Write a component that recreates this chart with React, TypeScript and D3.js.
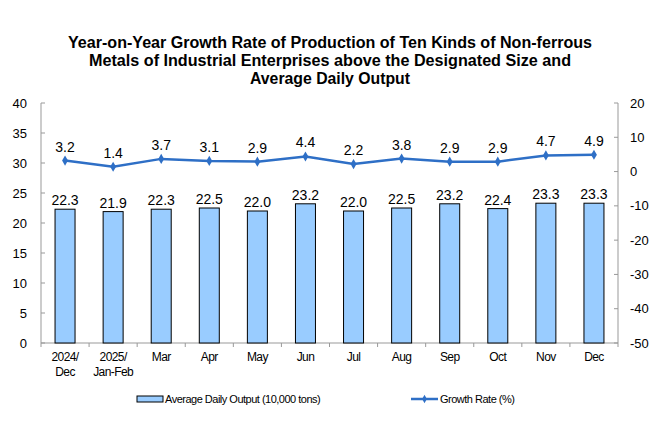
import * as d3 from 'd3';

const categories = [
  ['2024/', 'Dec'], ['2025/', 'Jan-Feb'], ['Mar'], ['Apr'], ['May'], ['Jun'],
  ['Jul'], ['Aug'], ['Sep'], ['Oct'], ['Nov'], ['Dec'],
];
const dailyOutput = [22.3, 21.9, 22.3, 22.5, 22.0, 23.2, 22.0, 22.5, 23.2, 22.4, 23.3, 23.3];
const growthRate = [3.2, 1.4, 3.7, 3.1, 2.9, 4.4, 2.2, 3.8, 2.9, 2.9, 4.7, 4.9];
const leftTicks = [0, 5, 10, 15, 20, 25, 30, 35, 40];
const rightTicks = [-50, -40, -30, -20, -10, 0, 10, 20];
const titleLines = [
  'Year-on-Year Growth Rate of Production of Ten Kinds of Non-ferrous',
  'Metals of Industrial Enterprises above the Designated Size and',
  'Average Daily Output',
];

const W = 660;
const H = 440;
const FONT = '"Liberation Sans", Arial, sans-serif';
const BAR_FILL = '#99ccff';
const LINE = '#2e6fc6';

export default function App() {
  const left = 41;
  const right = 618;
  const top = 103;
  const bottom = 343;

  const idx = categories.map((_, i) => String(i));
  const x = d3.scaleBand().domain(idx).range([left, right]);
  const yL = d3.scaleLinear().domain([0, 40]).range([bottom, top]);
  const yR = d3.scaleLinear().domain([-50, 20]).range([bottom, top]);
  const barW = 20;
  const cx = (i: number) => (x(String(i)) ?? 0) + x.bandwidth() / 2;

  const line = d3.line<number>()
    .x((_, i) => cx(i))
    .y(d => yR(d));

  const titleWidths = [524, 482, 160];

  return (
    <svg width={W} height={H} style={{ position: 'absolute', left: 0, top: 0 }} fontFamily={FONT}>
      <rect width={W} height={H} fill="#fff" />

      {titleLines.map((t, i) => (
        <text key={i} x={W / 2} y={48 + i * 18} textAnchor="middle" fontSize={16} fontWeight="bold"
          textLength={titleWidths[i]} lengthAdjust="spacingAndGlyphs" fill="#000">{t}</text>
      ))}

      {/* axes */}
      <line x1={left} x2={left} y1={top} y2={bottom} stroke="#999" />
      <line x1={right} x2={right} y1={top} y2={bottom} stroke="#999" />
      <line x1={left} x2={right} y1={bottom} y2={bottom} stroke="#999" />

      {leftTicks.map(t => (
        <g key={'l' + t}>
          <line x1={left} x2={left + 4} y1={yL(t)} y2={yL(t)} stroke="#999" />
          <text x={27} y={yL(t)} dy="0.35em" textAnchor="end" fontSize={13}>{t}</text>
        </g>
      ))}
      {rightTicks.map(t => (
        <g key={'r' + t}>
          <line x1={right - 4} x2={right} y1={yR(t)} y2={yR(t)} stroke="#999" />
          <text x={630} y={yR(t)} dy="0.35em" textAnchor="start" fontSize={13}>{t}</text>
        </g>
      ))}
      {d3.range(categories.length + 1).map(i => (
        <line key={'xt' + i} x1={left + i * x.bandwidth()} x2={left + i * x.bandwidth()}
          y1={bottom} y2={bottom + 4} stroke="#999" />
      ))}

      {categories.map((c, i) => (
        <text key={'c' + i} x={cx(i)} y={361} textAnchor="middle" fontSize={12}
          letterSpacing={-0.6}>
          {c.map((s, j) => (
            <tspan key={j} x={cx(i)} dy={j === 0 ? 0 : 15}>{s}</tspan>
          ))}
        </text>
      ))}

      {/* bars */}
      {dailyOutput.map((v, i) => (
        <g key={'b' + i}>
          <rect x={cx(i) - barW / 2} y={yL(v)} width={barW} height={bottom - yL(v)}
            fill={BAR_FILL} stroke="#000" strokeWidth={1} />
          <text x={cx(i)} y={yL(v) - 4} textAnchor="middle" fontSize={14}>{v.toFixed(1)}</text>
        </g>
      ))}

      {/* line */}
      <path d={line(growthRate) ?? ''} fill="none" stroke={LINE} strokeWidth={2.5} />
      {growthRate.map((v, i) => (
        <g key={'p' + i}>
          <path d={d3.symbol(d3.symbolDiamond, 30)() ?? ''} transform={`translate(${cx(i)},${yR(v)})`}
            fill={LINE} />
          <text x={cx(i)} y={yR(v) - 9} textAnchor="middle" fontSize={14}>{v.toFixed(1)}</text>
        </g>
      ))}

      {/* legend */}
      <rect x={137} y={396} width={26} height={6} fill={BAR_FILL} stroke="#000" />
      <text x={165} y={399} dy="0.35em" fontSize={11} letterSpacing={-0.5}>Average Daily Output (10,000 tons)</text>
      <line x1={411} x2={438} y1={399} y2={399} stroke={LINE} strokeWidth={2.5} />
      <path d={d3.symbol(d3.symbolDiamond, 20)() ?? ''} transform="translate(424.5,399)" fill={LINE} />
      <text x={440} y={399} dy="0.35em" fontSize={11} letterSpacing={-0.5}>Growth Rate (%)</text>
    </svg>
  );
}
